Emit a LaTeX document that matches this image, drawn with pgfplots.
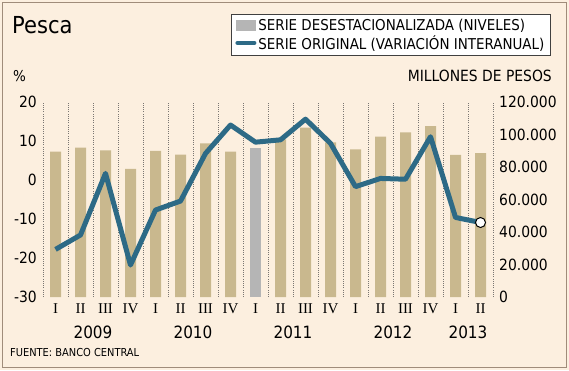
\documentclass[border=0pt]{standalone}
\usepackage{fontspec}
\setmainfont{DejaVu Sans Condensed}
\newfontfamily\romfont{Liberation Serif}
\usepackage{pgfplots}
\usepackage{pgfplotstable}
\pgfplotsset{compat=1.18}

\definecolor{bgc}{HTML}{FCEFDF}
\definecolor{barc}{HTML}{C9B88E}
\definecolor{grayc}{HTML}{B5B5B5}
\definecolor{linec}{HTML}{2D6A86}
\definecolor{framec}{HTML}{A08C7A}
\definecolor{gridc}{HTML}{7A7672}

\pgfplotstableread{
x val
0 89400
1 91900
2 90300
3 78800
4 90000
5 87600
6 94600
7 89400
9 97000
10 104200
11 95200
12 90900
13 98700
14 101300
15 105200
16 87400
17 88600
}\tanbars

\pgfplotstableread{
x val
8 91900
}\graybars

\pgfplotstableread{
x val
0 -17.8
1 -14.1
2 1.7
3 -21.8
4 -7.7
5 -5.4
6 6.8
7 14.1
8 9.7
9 10.3
10 15.6
11 9.4
12 -1.7
13 0.4
14 0.2
15 11.1
16 -9.6
17 -10.9
}\lineser

\begin{document}
\begin{tikzpicture}[x=1bp,y=1bp]
\fill[bgc] (0,0) rectangle (569,370);
\draw[framec, line width=1.2bp] (2.5,2.5) rectangle (566.5,367.5);

\node[anchor=base west, inner sep=0pt, font=\fontsize{23.5}{25}\selectfont] at (12,337) {Pesca};
\node[anchor=base west, inner sep=0pt, font=\fontsize{15}{17}\selectfont] at (13,289) {\%};
\node[anchor=base east, inner sep=0pt, font=\fontsize{15.5}{17}\selectfont] at (552,289) {MILLONES DE PESOS};

\begin{axis}[
  at={(43bp,73bp)}, anchor=south west,
  width=450bp, height=195bp, scale only axis,
  xmin=-0.5, xmax=17.5, ymin=0, ymax=120000,
  axis line style={draw=none},
  major tick length=0pt, minor tick length=0pt,
  xtick={0,...,17},
  xticklabels={I,II,III,IV,I,II,III,IV,I,II,III,IV,I,II,III,IV,I,II},
  minor xtick={-0.5,0.5,...,17.5},
  xminorgrids=true,
  minor grid style={gridc, line width=0.9bp, dash pattern=on 0.9bp off 1.3bp},
  xticklabel style={font=\romfont\fontsize{15}{17}\selectfont, inner sep=0pt, anchor=north, yshift=-7bp},
  ytick={0,20000,40000,60000,80000,100000,120000},
  yticklabels={0,20.000,40.000,60.000,80.000,100.000,120.000},
  yticklabel pos=right,
  yticklabel style={font=\fontsize{15.5}{17}\selectfont, inner sep=0pt, anchor=west, xshift=6bp},
  scaled y ticks=false,
  clip=false,
]
\addplot[ybar, bar width=11bp, bar shift=0pt, fill=barc, draw=none] table[x=x,y=val] {\tanbars};
\addplot[ybar, bar width=11bp, bar shift=0pt, fill=grayc, draw=none] table[x=x,y=val] {\graybars};
\end{axis}

\begin{axis}[
  at={(43bp,73bp)}, anchor=south west,
  width=450bp, height=195bp, scale only axis,
  xmin=-0.5, xmax=17.5, ymin=-30, ymax=20,
  axis line style={draw=none},
  major tick length=0pt,
  xtick=\empty,
  ytick={-30,-20,-10,0,10,20},
  yticklabel pos=left,
  yticklabel style={font=\fontsize{15.5}{17}\selectfont, inner sep=0pt, anchor=east, xshift=-6bp},
  /pgf/number format/assume math mode=true,
  clip=false,
  legend style={at={(0.4178,1.451)}, anchor=north west, draw=black!75, fill=white,
    font=\fontsize{15}{15}\selectfont, cells={anchor=west}, inner xsep=4bp, inner ysep=3bp,
    row sep=-1bp, line width=0.8bp},
]
\addlegendimage{legend image code/.code={\fill[grayc] (0bp,-5bp) rectangle (19bp,5bp);}}
\addlegendentry{SERIE DESESTACIONALIZADA (NIVELES)}
\addplot[linec, line width=5bp, line join=round, mark=none,
  legend image code/.code={\draw[linec, line width=4bp, line cap=round] (1bp,0bp) -- (18bp,0bp);}]
  table[x=x,y=val] {\lineser};
\addlegendentry{SERIE ORIGINAL (VARIACIÓN INTERANUAL)}
\addplot[only marks, mark=*, mark size=5bp, mark options={fill=white, draw=black, line width=1bp}, forget plot]
  coordinates {(17,-10.9)};
\end{axis}

\node[anchor=base, inner sep=0pt, font=\fontsize{17}{19}\selectfont] at (93,32) {2009};
\node[anchor=base, inner sep=0pt, font=\fontsize{17}{19}\selectfont] at (193,32) {2010};
\node[anchor=base, inner sep=0pt, font=\fontsize{17}{19}\selectfont] at (293,32) {2011};
\node[anchor=base, inner sep=0pt, font=\fontsize{17}{19}\selectfont] at (393,32) {2012};
\node[anchor=base, inner sep=0pt, font=\fontsize{17}{19}\selectfont] at (468,32) {2013};
\node[anchor=base west, inner sep=0pt, font=\fontsize{11}{13}\selectfont] at (10,14) {FUENTE: BANCO CENTRAL};
\end{tikzpicture}
\end{document}
